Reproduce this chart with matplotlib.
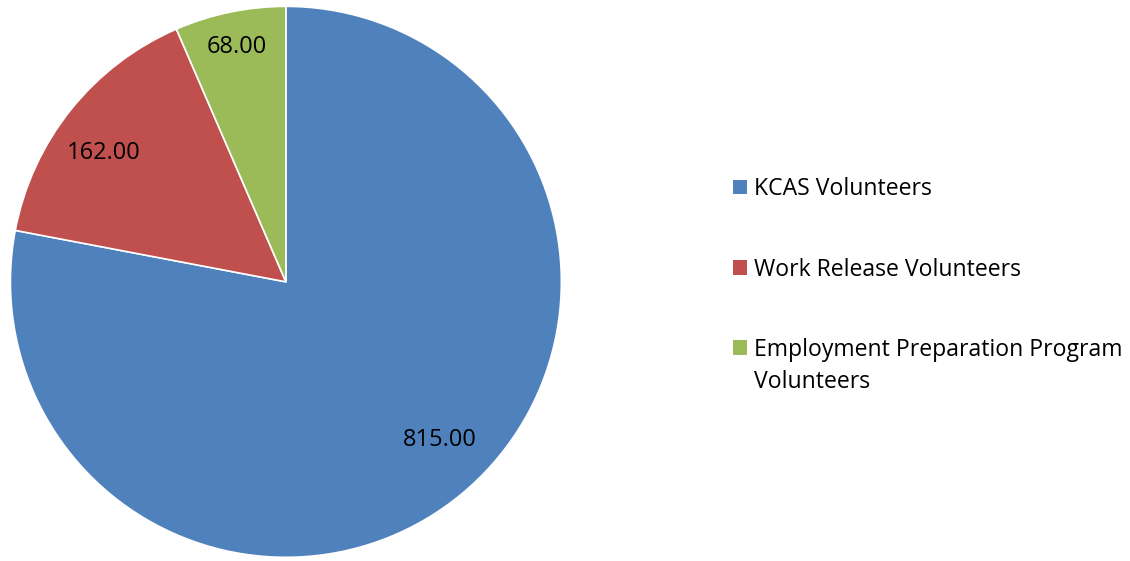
import numpy as np
import matplotlib
matplotlib.use('Agg')
import matplotlib.pyplot as plt
from matplotlib.patches import Patch

# Data
categories = ['KCAS Volunteers', 'Work Release Volunteers',
              'Employment Preparation Program']
extra_line = 'Volunteers'  # second line of the last legend entry
values = [815.00, 162.00, 68.00]
colors = ['#4F81BD', '#C0504D', '#9BBB59']
label_dist = [0.80, 0.81, 0.87]
label_shift = [4.7, 3.3, 0.0]  # degrees, to mimic Excel "best fit"

plt.rcParams['font.family'] = ['Open Sans', 'DejaVu Sans']

fig = plt.figure(figsize=(11.30, 5.61), dpi=100)
ax = fig.add_axes([0.008, 0.0036, 0.490, 0.988])

wedges, _ = ax.pie(values, colors=colors, startangle=90, counterclock=False,
                   wedgeprops=dict(edgecolor='white', linewidth=1.2))
ax.set_xlim(-1.005, 1.005)
ax.set_ylim(-1.005, 1.005)
ax.set_aspect('equal')

# Value labels inside the slices
for w, v, d, s in zip(wedges, values, label_dist, label_shift):
    mid = np.deg2rad((w.theta1 + w.theta2) / 2 + s)
    ax.text(d * np.cos(mid), d * np.sin(mid), f'{v:.2f}',
            ha='center', va='center', fontsize=17, color='black')

handles = [Patch(facecolor=c, edgecolor='none') for c in colors]
leg = fig.legend(handles, categories, loc='upper left', bbox_to_anchor=(0.649, 0.684),
                 frameon=False, fontsize=16.6, handlelength=0.6, handleheight=0.6,
                 handletextpad=0.28, labelspacing=2.44, borderpad=0, borderaxespad=0)

# wrapped second line of the last entry, under its first line
fig.canvas.draw()
bb = leg.get_texts()[2].get_window_extent()
W, H = fig.canvas.get_width_height()
fig.text(bb.x0 / W, (bb.y0 - 32) / H, extra_line,
         ha='left', va='bottom', fontsize=16.6)

fig.savefig('out.png', dpi=100)
